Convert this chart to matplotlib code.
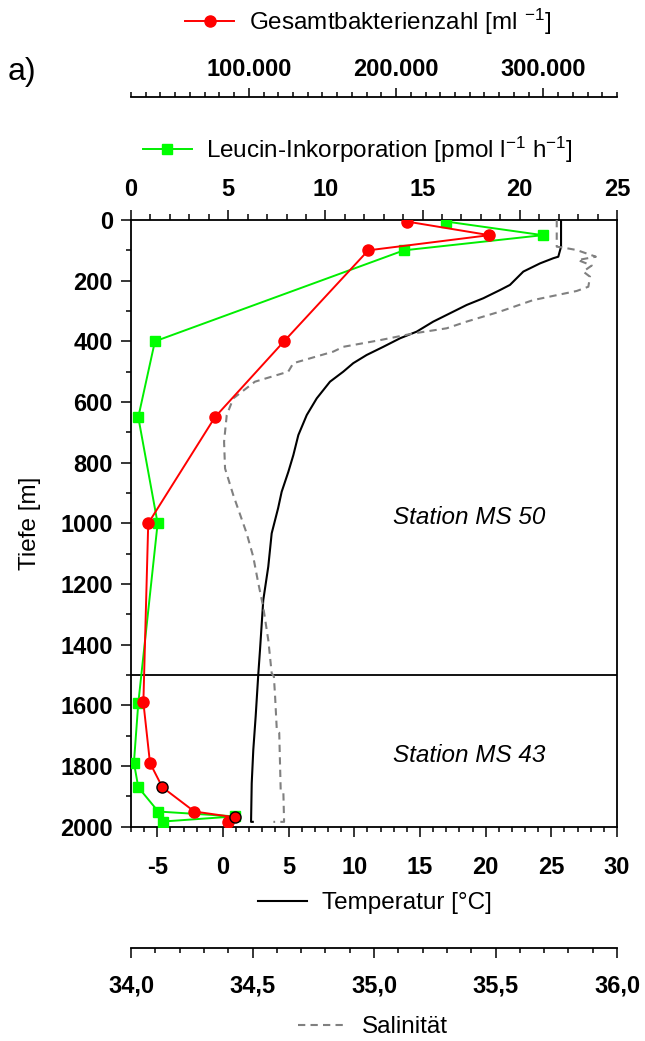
import matplotlib
matplotlib.use("Agg")
import matplotlib.pyplot as plt
from matplotlib.ticker import MultipleLocator, FuncFormatter, FixedLocator
from matplotlib.lines import Line2D

plt.rcParams['font.family'] = ['Liberation Sans', 'DejaVu Sans']
plt.rcParams['mathtext.fontset'] = 'custom'
plt.rcParams['mathtext.rm'] = 'Liberation Sans'
plt.rcParams['mathtext.it'] = 'Liberation Sans:italic'
plt.rcParams['mathtext.bf'] = 'Liberation Sans:bold'
plt.rcParams['axes.unicode_minus'] = False

# ---------------- data ----------------
bac_depth = [5, 50, 100, 400, 650, 1000, 1590, 1790, 1870, 1950, 1969, 1983]
bac_vals = [207200, 263300, 181100, 123900, 77000, 31700, 28400, 32900, 41300, 63000, 90600, 86100]
bac_other_cast = [False, False, False, False, False, False, False, False, True, False, True, False]

leu_depth = [5, 50, 100, 400, 650, 1000, 1593, 1789, 1870, 1950, 1966, 1983]
leu_vals = [16.2, 21.18, 14.04, 1.23, 0.375, 1.37, 0.375, 0.15, 0.375, 1.40, 5.35, 1.63]

temp_depth = [0, 88, 121, 126, 143, 170, 214, 231, 258, 280, 313, 335, 368, 390, 418, 445,
              472, 500, 533, 588, 643, 709, 775, 830, 896, 950, 1033, 1143, 1253, 1418, 1498,
              1637, 1747, 1857, 1984, 1984]
temp_vals = [25.74, 25.74, 25.53, 25.15, 24.14, 22.87, 21.85, 21.09, 19.82, 18.56, 17.03, 16.01,
             14.75, 13.48, 12.21, 10.94, 9.92, 9.16, 8.15, 7.14, 6.38, 5.74, 5.36, 4.98, 4.47,
             4.2, 3.71, 3.45, 3.07, 2.82, 2.69, 2.49, 2.31, 2.19, 2.14, 2.27]

sal_depth = [0, 88, 90, 99, 121, 132, 150, 170, 187, 220, 234, 264, 302, 335, 357, 374, 396,
             418, 434, 472, 500, 533, 588, 643, 731, 819, 907, 1033, 1110, 1198, 1275, 1385,
             1494, 1505, 1571, 1681, 1690, 1879, 1885, 1984, 1984]
sal_vals = [35.752, 35.752, 35.772, 35.834, 35.913, 35.839, 35.896, 35.861, 35.889, 35.882,
            35.834, 35.655, 35.518, 35.381, 35.299, 35.162, 35.025, 34.874, 34.832, 34.668,
            34.647, 34.510, 34.421, 34.394, 34.383, 34.387, 34.421, 34.476, 34.503, 34.524,
            34.544, 34.565, 34.579, 34.588, 34.593, 34.600, 34.610, 34.616, 34.627, 34.630,
            34.586]

station_boundary = 1500
station_labels = ["Station MS 50", "Station MS 43"]

depth_lim = (2000, 0)
temp_lim = (-7, 30)
leu_lim = (0, 25)
bac_lim = (20000, 350000)
sal_lim = (34.0, 36.0)

# ---------------- figure ----------------
W, H = 645, 1041
fig = plt.figure(figsize=(W / 100, H / 100), dpi=100)
L, R, T, B = 131, 617, 220, 826.7
ax = fig.add_axes([L / W, 1 - B / H, (R - L) / W, (B - T) / H])
axh = B - T

TICK_FS = 17
LEG_FS = 17.5
lw_frame = 1.3


def bold_ticks(a):
    for lab in a.get_xticklabels() + a.get_yticklabels():
        lab.set_fontweight('bold')


for s in ax.spines.values():
    s.set_linewidth(lw_frame)

# temperature (main bottom axis)
ax.set_ylim(*depth_lim)
ax.set_xlim(*temp_lim)
ax.plot(temp_vals, temp_depth, color='black', lw=1.5, zorder=2)
ax.xaxis.set_major_locator(MultipleLocator(5))
ax.xaxis.set_minor_locator(MultipleLocator(1))
ax.yaxis.set_major_locator(MultipleLocator(200))
ax.yaxis.set_minor_locator(MultipleLocator(100))
ax.tick_params(axis='x', which='major', direction='out', length=7, width=1.1,
               labelsize=TICK_FS, pad=14, top=False)
ax.tick_params(axis='x', which='minor', direction='out', length=3.6, width=1.1, top=False)
ax.tick_params(axis='y', which='major', direction='out', length=7, width=1.1,
               labelsize=TICK_FS, pad=6)
ax.tick_params(axis='y', which='minor', direction='out', length=3.6, width=1.1)
ax.set_ylabel("Tiefe [m]", fontsize=LEG_FS, labelpad=14)
ax.axhline(station_boundary, color='black', lw=1.3, zorder=1)
ax.text((393 - L) / (R - L), (B - 517) / axh, station_labels[0], transform=ax.transAxes,
        fontsize=LEG_FS, style='italic', va='center', ha='left')
ax.text((393 - L) / (R - L), (B - 755) / axh, station_labels[1], transform=ax.transAxes,
        fontsize=LEG_FS, style='italic', va='center', ha='left')

# salinity (second bottom axis)
ax_sal = ax.twiny()
ax_sal.set_xlim(*sal_lim)
ax_sal.plot(sal_vals, sal_depth, color='#808080', lw=1.5, ls=(0, (3.5, 2.5)), zorder=2)
ax_sal.xaxis.set_ticks_position('bottom')
ax_sal.xaxis.set_label_position('bottom')
for k, s in ax_sal.spines.items():
    s.set_visible(k == 'bottom')
ax_sal.spines['bottom'].set_position(('axes', -(948.3 - B) / axh))
ax_sal.spines['bottom'].set_linewidth(lw_frame)
ax_sal.xaxis.set_major_locator(MultipleLocator(0.5))
ax_sal.xaxis.set_minor_locator(MultipleLocator(0.1))
ax_sal.xaxis.set_major_formatter(FuncFormatter(lambda v, p: f"{v:.1f}".replace('.', ',')))
ax_sal.tick_params(axis='x', which='major', direction='out', length=7, width=1.1,
                   labelsize=TICK_FS, pad=12)
ax_sal.tick_params(axis='x', which='minor', direction='out', length=3.6, width=1.1)
ax_sal.patch.set_visible(False)

# leucin (top axis)
ax_leu = ax.twiny()
ax_leu.set_xlim(*leu_lim)
ax_leu.plot(leu_vals, leu_depth, color='#00ee00', lw=1.4, marker='s', ms=7,
            mfc='#00ff00', mec='#00ff00', zorder=3)
ax_leu.xaxis.set_major_locator(MultipleLocator(5))
ax_leu.xaxis.set_minor_locator(MultipleLocator(1))
ax_leu.tick_params(axis='x', which='major', direction='out', length=7, width=1.1,
                   labelsize=TICK_FS, pad=7)
ax_leu.tick_params(axis='x', which='minor', direction='out', length=4, width=1.1)
for s in ax_leu.spines.values():
    s.set_visible(False)
ax_leu.patch.set_visible(False)

# bacteria (upper top axis)
ax_bac = ax.twiny()
ax_bac.set_xlim(*bac_lim)
ax_bac.plot(bac_vals, bac_depth, color='#ff0000', lw=1.4, zorder=4)
norm_x = [v for v, o in zip(bac_vals, bac_other_cast) if not o]
norm_y = [d for d, o in zip(bac_depth, bac_other_cast) if not o]
oth_x = [v for v, o in zip(bac_vals, bac_other_cast) if o]
oth_y = [d for d, o in zip(bac_depth, bac_other_cast) if o]
ax_bac.plot(norm_x, norm_y, ls='none', marker='o', ms=8, mfc='#ff0000', mec='#ff0000', zorder=5)
ax_bac.plot(oth_x, oth_y, ls='none', marker='o', ms=8, mfc='#ff0000', mec='black', mew=1.0, zorder=6)
for k, s in ax_bac.spines.items():
    s.set_visible(k == 'top')
ax_bac.spines['top'].set_position(('axes', 1 + (T - 97) / axh))
ax_bac.spines['top'].set_linewidth(lw_frame)
ax_bac.xaxis.set_major_locator(FixedLocator([100000, 200000, 300000]))
ax_bac.xaxis.set_minor_locator(MultipleLocator(10000))
ax_bac.xaxis.set_major_formatter(FuncFormatter(lambda v, p: f"{int(v):,}".replace(',', '.')))
ax_bac.tick_params(axis='x', which='major', direction='out', length=6.5, width=1.1,
                   labelsize=TICK_FS, pad=5)
ax_bac.tick_params(axis='x', which='minor', direction='out', length=3.6, width=1.1)
ax_bac.patch.set_visible(False)

for a in (ax, ax_sal, ax_leu, ax_bac):
    bold_ticks(a)

# legends
def add_leg(handle, label, cx, cy):
    lg = fig.legend([handle], [label], loc='center', bbox_to_anchor=(cx / W, 1 - cy / H),
                    frameon=False, fontsize=LEG_FS, handlelength=2.0, handletextpad=0.6,
                    borderpad=0, borderaxespad=0)
    return lg

h_bac = Line2D([], [], color='#ff0000', lw=1.4, marker='o', ms=8, mfc='#ff0000', mec='#ff0000')
h_leu = Line2D([], [], color='#00ee00', lw=1.4, marker='s', ms=7, mfc='#00ff00', mec='#00ff00')
h_tmp = Line2D([], [], color='black', lw=1.5)
h_sal = Line2D([], [], color='#808080', lw=1.5, ls=(0, (3.5, 2.5)))
add_leg(h_bac, r"Gesamtbakterienzahl [ml $^{-1}$]", 368, 22)
add_leg(h_leu, r"Leucin-Inkorporation [pmol l$^{-1}$ h$^{-1}$]", 358, 150)
add_leg(h_tmp, "Temperatur [°C]", 375, 903)
add_leg(h_sal, "Salinität", 373, 1027)

fig.text(8 / W, 1 - 72 / H, "a)", fontsize=23, va='center', ha='left')

fig.savefig("out.png", dpi=100)
